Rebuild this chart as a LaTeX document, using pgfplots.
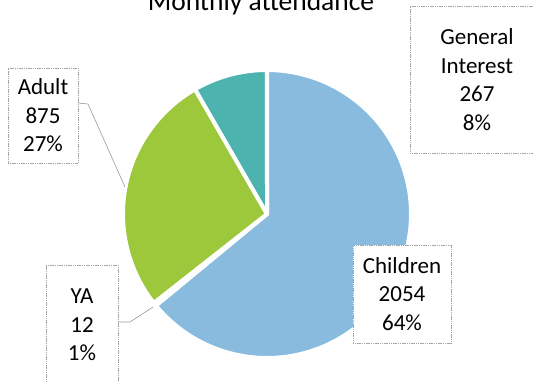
\documentclass[border=0pt]{standalone}
\usepackage{fontspec}
\setmainfont{Carlito}
\usepackage{pgfplots}
\pgfplotsset{compat=1.18}
\definecolor{cBlue}{RGB}{136,187,221}
\definecolor{cGreen}{RGB}{157,200,60}
\definecolor{cTeal}{RGB}{77,179,174}
\definecolor{cYA}{RGB}{255,255,255}
\begin{document}
\begin{tikzpicture}
\clip (0,0) rectangle (533pt,381pt);
% data: Children, YA, Adult, General Interest
\def\vC{2054}\def\vY{12}\def\vA{875}\def\vG{267}
\pgfmathsetmacro\tot{\vC+\vY+\vA+\vG}
\pgfmathsetmacro\aA{90}
\pgfmathsetmacro\aB{\aA-360*(\vC/\tot)}
\pgfmathsetmacro\aC{\aB-360*(\vY/\tot)}
\pgfmathsetmacro\aD{\aC-360*(\vA/\tot)}
\pgfmathsetmacro\aE{\aD-360*(\vG/\tot)}
\def\cx{267}\def\cy{167}\def\rr{144}
\tikzset{lbl/.style={draw=gray!70, line width=0.8pt, dash pattern=on 1.2pt off 0.6pt, fill=white, align=center, inner sep=0pt, font=\fontsize{23}{28.5}\selectfont}}
\begin{axis}[width=533pt,height=381pt,scale only axis,
  xmin=0,xmax=533,ymin=0,ymax=381, hide axis, clip=false]
\addplot[fill=cBlue, draw=white, line width=4pt, line join=round, domain=\aB:\aA, samples=150, variable=\t]
  ({\cx+\rr*cos(\t)},{\cy+\rr*sin(\t)}) -- (axis cs:\cx,\cy) -- cycle;
\addplot[fill=cYA, draw=white, line width=4pt, line join=round, domain=\aC:\aB, samples=5, variable=\t]
  ({\cx+\rr*cos(\t)},{\cy+\rr*sin(\t)}) -- (axis cs:\cx,\cy) -- cycle;
\addplot[fill=cGreen, draw=white, line width=4pt, line join=round, domain=\aD:\aC, samples=80, variable=\t]
  ({\cx+\rr*cos(\t)},{\cy+\rr*sin(\t)}) -- (axis cs:\cx,\cy) -- cycle;
\addplot[fill=cTeal, draw=white, line width=4pt, line join=round, domain=\aE:\aD, samples=40, variable=\t]
  ({\cx+\rr*cos(\t)},{\cy+\rr*sin(\t)}) -- (axis cs:\cx,\cy) -- cycle;
% leader lines
\addplot[gray!80, line width=0.6pt, mark=none] coordinates {(78,278) (88,277) (125,194)};
\addplot[gray!80, line width=0.6pt, mark=none] coordinates {(118,59) (130,59) (153,74)};
% title
\node[anchor=base, font=\fontsize{27.5}{33}\selectfont] at (axis cs:261,370) {Monthly attendance};
% labels
\node[lbl, minimum width=134pt, minimum height=147pt] at (axis cs:477,301.5) {General\\Interest\\267\\8\%};
\node[lbl, minimum width=70pt, minimum height=95pt] at (axis cs:43,265.5) {Adult\\875\\27\%};
\node[lbl, minimum width=98pt, minimum height=98pt] at (axis cs:402,87) {Children\\2054\\64\%};
\node[lbl, minimum width=72pt, minimum height=120pt] at (axis cs:82,56) {YA\\12\\1\%};
\end{axis}
\end{tikzpicture}
\end{document}
